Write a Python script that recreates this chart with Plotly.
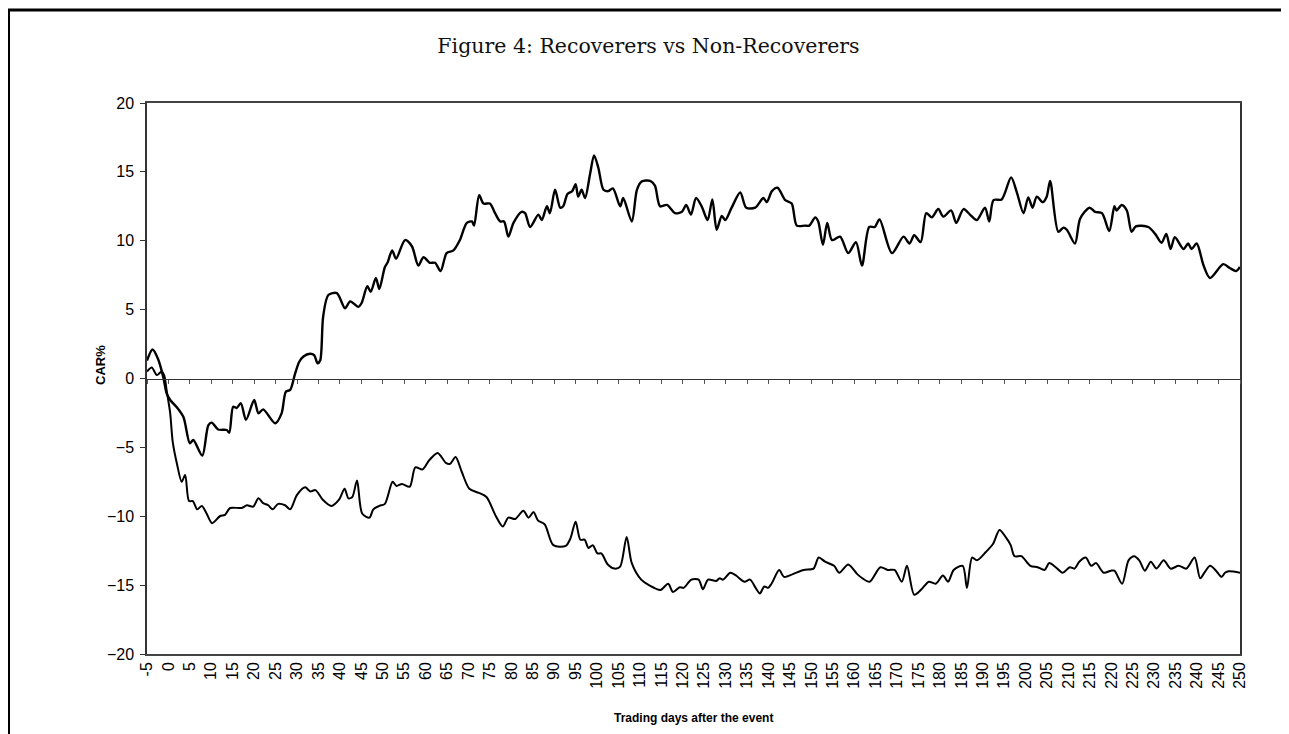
import plotly.graph_objects as go

# Recoverers (upper curve): trading day, CAR%
rec_day = [-5, -3.7, -2.4, -1.2, -0.4, 0.5, 2.0, 3.5, 5.0, 5.8, 7.9, 9.3, 10.1, 11.6, 13.6, 14.2,
           15.1, 15.9, 16.9, 18.1, 20.0, 21.0, 22.1, 24.9, 26.4, 27.4, 28.4, 29.5, 30.5, 31.5, 33.0,
           34.0, 34.8, 35.4, 36.1, 37.3, 39.3, 41.2, 42.4, 44.3, 45.1, 46.4, 47.2, 48.4, 49.2, 50.5,
           51.1, 52.2, 53.1, 55.2, 56.8, 58.3, 59.5, 61.0, 62.2, 63.5, 64.9, 66.5, 68.0, 69.6, 70.8,
           71.3, 72.5, 73.5, 75.0, 76.2, 77.4, 78.3, 79.3, 80.5, 82.4, 83.2, 84.4, 86.3, 87.1, 88.3,
           89.0, 90.2, 91.4, 92.1, 93.1, 94.2, 95.0, 95.6, 96.4, 97.2, 98.4, 99.3, 100.3, 101.5,
           102.6, 103.7, 105.4, 106.1, 108.1, 109.3, 110.4, 112.4, 113.5, 114.7, 116.3, 118.2, 119.8,
           120.8, 121.9, 123.1, 124.4, 125.8, 126.9, 127.9, 129.1, 129.9, 131.4, 133.4, 134.8, 136.9,
           138.8, 139.6, 140.8, 142.1, 143.9, 145.4, 146.6, 148.5, 149.5, 150.9, 151.6, 152.7, 153.7,
           154.8, 156.7, 158.6, 160.4, 161.8, 163.5, 164.8, 165.9, 168.8, 171.5, 172.9, 174.0, 175.5,
           176.8, 178.1, 179.6, 180.8, 182.6, 183.8, 185.5, 187.0, 188.6, 190.5, 191.5, 192.5, 194.4,
           196.6, 197.9, 199.5, 200.6, 201.6, 202.6, 204.0, 204.9, 205.7, 207.6, 208.8, 209.6, 211.5,
           212.7, 214.9, 216.2, 217.8, 219.5, 220.7, 221.2, 222.4, 223.6, 224.7, 225.7, 228.6, 230.2,
           231.7, 232.8, 233.8, 234.8, 236.8, 237.9, 238.7, 239.9, 241.5, 243.0, 246.1, 247.7, 249.1,
           250]
rec_car = [1.3, 2.1, 1.4, 0.1, -1.1, -1.6, -2.1, -2.8, -4.7, -4.46, -5.6, -3.4, -3.2, -3.7, -3.74,
           -3.93, -2.05, -2.14, -1.8, -3.0, -1.56, -2.53, -2.24, -3.25, -2.53, -0.96, -0.83, 0.3, 1.2,
           1.6, 1.8, 1.7, 1.1, 1.3, 4.5, 6.06, 6.2, 5.1, 5.6, 5.2, 5.5, 6.7, 6.3, 7.3, 6.5, 8.1, 8.4,
           9.3, 8.7, 10.05, 9.6, 8.2, 8.8, 8.4, 8.4, 7.8, 9.1, 9.3, 10.05, 11.3, 11.4, 11.1, 13.3,
           12.7, 12.7, 12.0, 11.4, 11.4, 10.3, 11.3, 12.1, 12.0, 11.0, 11.9, 11.5, 12.5, 12.0, 13.7,
           12.4, 12.5, 13.4, 13.6, 14.1, 13.2, 13.7, 13.1, 14.9, 16.2, 15.3, 13.7, 13.6, 13.8, 12.5,
           13.1, 11.4, 13.7, 14.3, 14.35, 14.0, 12.5, 12.6, 12.0, 12.1, 12.6, 11.9, 13.1, 12.5, 11.5,
           13.0, 10.8, 11.8, 11.5, 12.4, 13.5, 12.4, 12.4, 13.1, 12.8, 13.6, 13.85, 12.95, 12.7, 11.1,
           11.1, 11.1, 11.7, 11.4, 9.7, 11.3, 10.05, 10.3, 9.1, 9.9, 8.2, 11.0, 11.0, 11.55, 9.1,
           10.3, 9.8, 10.4, 9.9, 12.0, 11.7, 12.3, 11.75, 12.2, 11.3, 12.3, 11.9, 11.5, 12.4, 11.4,
           12.95, 13.0, 14.6, 13.55, 12.0, 13.15, 12.4, 13.2, 12.8, 13.2, 14.35, 10.65, 10.95, 10.8,
           9.8, 11.6, 12.4, 12.1, 12.0, 10.7, 12.5, 12.2, 12.6, 12.2, 10.65, 11.05, 11.0, 10.5, 9.85,
           10.5, 9.4, 10.25, 9.4, 9.8, 9.4, 9.8, 8.2, 7.3, 8.3, 8.0, 7.8, 8.1]

# Non-Recoverers (lower curve)
non_day = [-5, -3.9, -2.7, -1.6, -1.0, -0.4, 0.4, 1.0, 2.0, 3.1, 3.9, 4.8, 5.7, 6.7, 7.8, 8.9, 10.2,
           12.0, 13.2, 14.4, 17.1, 18.3, 19.8, 21.0, 22.1, 23.3, 24.3, 25.6, 27.2, 28.4, 30.0, 31.9,
           33.1, 34.3, 36.0, 38.0, 39.8, 41.1, 42.0, 42.9, 44.0, 45.2, 46.9, 47.8, 49.2, 50.5, 52.3,
           53.2, 54.5, 56.3, 57.6, 59.3, 60.8, 62.8, 64.8, 65.7, 67.0, 68.4, 70.2, 72.4, 74.2, 76.4,
           78.0, 79.3, 80.9, 82.8, 84.0, 85.2, 86.2, 87.8, 89.8, 92.7, 93.8, 95.0, 96.1, 97.1, 98.0,
           99.0, 100.1, 101.0, 102.5, 104.1, 105.4, 106.9, 108.1, 110.3, 112.1, 114.8, 116.6, 117.7,
           119.3, 120.2, 122.0, 123.7, 124.7, 125.9, 127.8, 128.6, 129.4, 131.1, 132.4, 134.4, 135.7,
           137.0, 138.0, 139.0, 139.9, 140.7, 142.5, 143.6, 145.7, 148.2, 150.5, 151.7, 153.2, 155.3,
           156.5, 158.6, 160.7, 161.9, 163.6, 166.1, 167.8, 169.4, 171.1, 172.3, 174.0, 175.7, 177.4,
           179.0, 180.7, 181.9, 183.2, 185.3, 186.3, 187.5, 188.6, 190.7, 192.4, 193.9, 195.3, 196.5,
           197.4, 199.0, 201.1, 202.8, 204.4, 205.5, 207.0, 208.6, 210.3, 211.4, 212.5, 214.0, 215.3,
           216.4, 218.2, 219.9, 220.7, 222.5, 224.0, 225.3, 226.5, 227.8, 229.2, 230.5, 232.2, 233.8,
           235.7, 237.5, 239.4, 240.7, 241.7, 243.0, 244.4, 245.7, 246.5, 247.4, 250]
non_car = [0.5, 0.8, 0.25, 0.5, 0.25, -0.9, -2.5, -4.6, -6.2, -7.5, -7.0, -8.9, -8.9, -9.5, -9.25,
           -9.8, -10.5, -10.0, -9.9, -9.4, -9.4, -9.2, -9.3, -8.7, -9.05, -9.2, -9.5, -9.1, -9.2, -9.5,
           -8.45, -7.9, -8.2, -8.1, -8.8, -9.25, -8.8, -8.0, -8.7, -8.6, -7.4, -9.8, -10.1, -9.5,
           -9.25, -9.1, -7.5, -7.8, -7.65, -7.85, -6.45, -6.6, -5.95, -5.4, -6.15, -6.2, -5.7, -6.75,
           -8.0, -8.3, -8.6, -10.0, -10.75, -10.1, -10.2, -9.6, -10.1, -9.7, -10.3, -10.6, -12.1,
           -12.15, -11.6, -10.4, -11.7, -11.7, -12.3, -12.1, -12.7, -12.7, -13.5, -13.8, -13.65,
           -11.5, -13.4, -14.6, -15.0, -15.35, -14.9, -15.5, -15.15, -15.2, -14.6, -14.6, -15.3,
           -14.6, -14.7, -14.5, -14.6, -14.1, -14.3, -14.75, -14.6, -15.2, -15.6, -15.1, -15.2, -14.9,
           -13.9, -14.4, -14.2, -13.9, -13.8, -13.0, -13.3, -13.6, -14.1, -13.5, -14.2, -14.5, -14.75,
           -13.7, -13.9, -13.9, -14.75, -13.6, -15.7, -15.3, -14.75, -14.9, -14.3, -14.75, -13.9,
           -13.6, -15.2, -13.0, -13.2, -12.6, -12.0, -11.0, -11.5, -12.1, -12.9, -12.9, -13.6, -13.7,
           -13.9, -13.4, -13.7, -14.1, -13.7, -13.8, -13.3, -13.0, -13.6, -13.4, -14.1, -13.95,
           -13.95, -14.9, -13.2, -12.9, -13.2, -13.95, -13.3, -13.8, -13.2, -13.8, -13.6, -13.8,
           -13.0, -14.5, -14.1, -13.6, -13.95, -14.4, -14.1, -14.0, -14.1]

tick_days = list(range(-5, 251, 5))
tick_text = [str(d) for d in tick_days]

sans = "Liberation Sans, Arial, sans-serif"

# plot area in figure pixels (page body adds 8px offset)
L, T, PW, PH = 139, 95, 1093, 551


def px(x):
    return (x - L) / PW


def py(y):
    return (T + PH - y) / PH


fig = go.Figure()
fig.add_trace(go.Scatter(x=rec_day, y=rec_car, mode="lines", name="Recoverers",
                         line=dict(color="#000", width=2.4, shape="spline", smoothing=0.8)))
fig.add_trace(go.Scatter(x=non_day, y=non_car, mode="lines", name="Non-Recoverers", xaxis="x2",
                         line=dict(color="#000", width=2.0, shape="spline", smoothing=0.8)))

fig.update_layout(
    width=1281, height=726,
    paper_bgcolor="white", plot_bgcolor="white",
    showlegend=False,
    margin=dict(l=L, r=1281 - L - PW, t=T, b=726 - T - PH),
    title=dict(text="Figure 4: Recoverers vs Non-Recoverers", x=0.5, xanchor="center",
               y=1 - 38 / 726, yanchor="middle", yref="container",
               font=dict(family="DejaVu Serif, serif", size=20.5, color="#111")),
    xaxis=dict(range=[-5, 250], tickmode="array", tickvals=tick_days, ticktext=tick_text,
               tickangle=-90, ticks="", showgrid=False, zeroline=False,
               showline=True, linecolor="#444", linewidth=1.5, mirror=True,
               tickfont=dict(family=sans, size=16, color="#000")),
    xaxis2=dict(range=[-5, 250], overlaying="x", anchor="free", position=0.5,
                tickmode="linear", tick0=0, dtick=5, ticks="outside", ticklen=4,
                tickcolor="#555", showticklabels=False, showgrid=False, zeroline=False,
                showline=True, linecolor="#333", linewidth=1.2),
    yaxis=dict(range=[-20, 20], dtick=5, ticks="outside", ticklen=5, tickcolor="#333",
               showgrid=False, zeroline=False, showline=True, linecolor="#333",
               linewidth=1.5, mirror=True, ticklabelstandoff=3,
               tickfont=dict(family=sans, size=16, color="#000")),
    annotations=[
        dict(text="<b>CAR%</b>", x=px(92), y=py(357), xref="paper", yref="paper",
             xanchor="center", yanchor="middle",
             showarrow=False, textangle=-90, font=dict(family=sans, size=13, color="#000")),
        dict(text="<b>Trading days after the event</b>", x=0.5, y=py(710),
             xref="paper", yref="paper", xanchor="center", yanchor="middle",
             showarrow=False, font=dict(family=sans, size=12, color="#000")),
    ],
    shapes=[
        dict(type="rect", xref="paper", yref="paper",
             x0=px(0.5), x1=px(1300), y0=py(740), y1=py(2),
             line=dict(color="#000", width=3)),
    ],
)

fig.write_html("out.html")
